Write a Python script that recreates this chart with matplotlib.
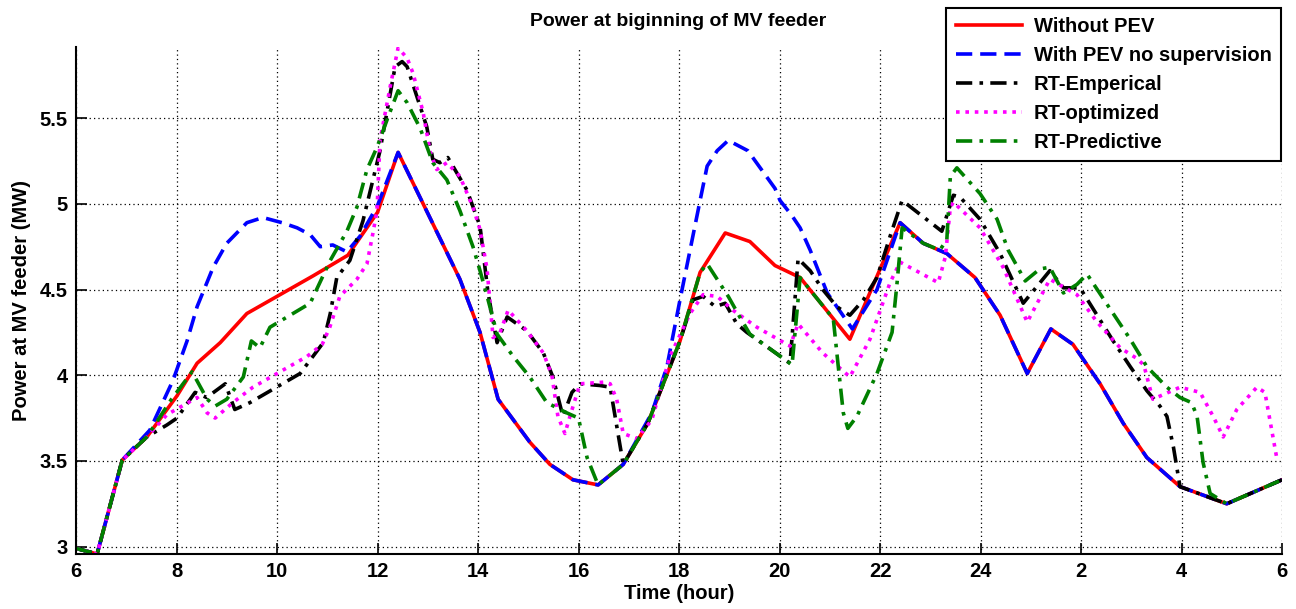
import matplotlib
matplotlib.use("Agg")
import matplotlib.pyplot as plt

# ---------------- data (hours, MW) ----------------
red_t = [6.0, 6.42, 6.92, 7.41, 8.01, 8.41, 8.87, 9.40, 10.0, 10.72, 11.41, 12.0, 12.41, 13.64, 14.04, 14.40,
         15.03, 15.43, 15.89, 16.39, 16.89, 17.38, 18.02, 18.42, 18.92, 19.41, 19.91, 20.41, 21.40, 22.40, 22.86,
         23.33, 23.89, 24.39, 24.93, 25.40, 25.84, 26.38, 26.84, 27.31, 27.97, 28.90, 30.0]
red_y = [2.99, 2.957, 3.505, 3.64, 3.88, 4.07, 4.19, 4.36, 4.46, 4.58, 4.70, 4.95, 5.30, 4.56, 4.25, 3.86,
         3.61, 3.48, 3.39, 3.36, 3.48, 3.72, 4.20, 4.60, 4.83, 4.78, 4.64, 4.57, 4.21, 4.89, 4.77,
         4.71, 4.57, 4.35, 4.01, 4.27, 4.18, 3.95, 3.72, 3.52, 3.35, 3.25, 3.39]

blue_t = [6.0, 6.42, 6.92, 7.47, 7.93, 8.21, 8.41, 8.73, 9.0, 9.40, 9.72, 10.1, 10.40, 10.66, 10.86, 11.11,
          11.39, 11.65, 12.0, 12.41, 13.64, 14.04, 14.40, 15.03, 15.43, 15.89, 16.39, 16.89, 17.46, 17.76,
          18.02, 18.22, 18.42, 18.56, 18.76, 18.98, 19.37, 19.91, 20.01, 20.25, 20.41, 20.61, 20.95, 21.45,
          21.94, 22.40, 22.86, 23.33, 23.89, 24.39, 24.93, 25.40, 25.84, 26.38, 26.84, 27.31, 27.97, 28.90, 30.0]
blue_y = [2.99, 2.957, 3.505, 3.68, 3.97, 4.20, 4.40, 4.63, 4.77, 4.89, 4.92, 4.89, 4.86, 4.82, 4.75, 4.76,
          4.72, 4.81, 4.99, 5.30, 4.56, 4.25, 3.86, 3.61, 3.48, 3.39, 3.36, 3.48, 3.78, 4.05,
          4.44, 4.73, 5.02, 5.22, 5.31, 5.37, 5.31, 5.09, 5.02, 4.93, 4.86, 4.73, 4.48, 4.27,
          4.50, 4.89, 4.77, 4.71, 4.57, 4.35, 4.01, 4.27, 4.18, 3.95, 3.72, 3.52, 3.35, 3.25, 3.39]

black_t = [6.0, 6.42, 6.92, 7.41, 7.81, 8.01, 8.37, 8.6, 8.97, 9.16, 9.46, 10.46, 10.92, 11.06, 11.19, 11.45,
           11.71, 12.05, 12.35, 12.49, 12.59, 12.98, 13.1, 13.24, 13.40, 13.78, 14.04, 14.20, 14.38, 14.58,
           14.97, 15.30, 15.49, 15.69, 15.87, 16.03, 16.43, 16.63, 16.89, 17.38, 18.02, 18.28, 18.48, 18.72,
           18.92, 19.15, 19.35, 20.21, 20.37, 20.61, 20.86, 21.14, 21.40, 21.67, 21.94, 22.2, 22.44, 23.23,
           23.46, 23.59, 23.99, 24.39, 24.85, 25.38, 25.65, 25.98, 26.64, 26.98, 27.31, 27.57, 27.71, 27.84,
           27.97, 28.90, 30.0]
black_y = [2.99, 2.957, 3.505, 3.64, 3.71, 3.75, 3.90, 3.87, 3.95, 3.80, 3.84, 4.01, 4.19, 4.36, 4.57, 4.67,
           4.90, 5.31, 5.80, 5.83, 5.80, 5.45, 5.26, 5.24, 5.27, 5.08, 4.87, 4.48, 4.19, 4.34,
           4.26, 4.13, 3.99, 3.76, 3.90, 3.95, 3.94, 3.93, 3.48, 3.72, 4.20, 4.44, 4.46, 4.40,
           4.42, 4.30, 4.25, 4.07, 4.68, 4.61, 4.50, 4.40, 4.35, 4.44, 4.57, 4.81, 5.02, 4.84,
           5.05, 5.04, 4.91, 4.71, 4.42, 4.61, 4.51, 4.51, 4.20, 4.05, 3.91, 3.82, 3.76, 3.58,
           3.35, 3.25, 3.39]

mag_t = [6.0, 6.42, 6.92, 7.41, 7.81, 8.41, 8.61, 8.77, 9.12, 9.52, 10.06, 10.6, 10.9, 11.05, 11.25, 11.59,
         11.79, 11.91, 11.99, 12.05, 12.25, 12.41, 12.59, 12.71, 12.91, 13.05, 13.18, 13.38, 13.64, 13.90,
         14.04, 14.18, 14.30, 14.44, 14.60, 14.97, 15.30, 15.47, 15.59, 15.73, 15.83, 16.03, 16.53, 16.63,
         16.76, 16.89, 17.16, 17.46, 17.82, 18.22, 18.48, 18.76, 19.07, 19.55, 20.21, 20.37, 20.86, 21.40,
         21.80, 22.2, 22.4, 23.16, 23.30, 23.4, 23.46, 23.99, 24.45, 24.93, 25.38, 25.92, 26.32, 26.78,
         27.1, 27.25, 27.43, 27.97, 28.37, 28.63, 28.83, 29.1, 29.5, 29.66, 29.9]
mag_y = [2.99, 2.957, 3.505, 3.64, 3.77, 3.87, 3.78, 3.75, 3.84, 3.93, 4.02, 4.11, 4.18, 4.28, 4.46, 4.56,
         4.65, 4.83, 4.96, 5.37, 5.68, 5.91, 5.85, 5.76, 5.53, 5.30, 5.20, 5.24, 5.16, 4.98,
         4.85, 4.62, 4.22, 4.25, 4.38, 4.26, 4.13, 4.00, 3.76, 3.66, 3.76, 3.95, 3.96, 3.95,
         3.86, 3.66, 3.63, 3.74, 4.11, 4.36, 4.47, 4.46, 4.38, 4.28, 4.17, 4.30, 4.13, 3.99,
         4.21, 4.54, 4.66, 4.54, 4.69, 4.98, 5.01, 4.86, 4.63, 4.31, 4.56, 4.47, 4.31, 4.16,
         4.10, 4.06, 3.86, 3.93, 3.90, 3.76, 3.64, 3.80, 3.93, 3.90, 3.51]

green_t = [6.0, 6.42, 6.92, 7.41, 7.9, 8.31, 8.61, 8.77, 9.0, 9.33, 9.49, 9.66, 9.86, 10.66, 11.06, 11.39,
           11.59, 11.79, 11.99, 12.19, 12.41, 12.59, 12.85, 13.1, 13.38, 13.64, 13.90, 14.04, 14.20, 14.38,
           14.70, 15.03, 15.37, 15.77, 16.0, 16.17, 16.39, 16.89, 17.38, 18.02, 18.42, 18.56, 18.98, 19.21,
           19.41, 20.25, 20.41, 21.07, 21.17, 21.27, 21.36, 21.54, 21.94, 22.24, 22.34, 22.44, 22.86, 23.19,
           23.33, 23.4, 23.53, 23.99, 24.33, 24.55, 24.89, 25.18, 25.38, 25.65, 25.92, 26.12, 26.64, 26.98,
           27.31, 27.71, 27.97, 28.2, 28.31, 28.43, 28.57, 28.90, 30.0]
green_y = [2.99, 2.957, 3.505, 3.64, 3.86, 4.02, 3.86, 3.82, 3.86, 3.99, 4.20, 4.16, 4.28, 4.42, 4.67, 4.84,
           4.98, 5.20, 5.33, 5.49, 5.66, 5.59, 5.44, 5.24, 5.14, 4.96, 4.75, 4.61, 4.44, 4.24,
           4.11, 3.99, 3.84, 3.78, 3.75, 3.52, 3.36, 3.48, 3.72, 4.20, 4.60, 4.65, 4.46, 4.34,
           4.24, 4.06, 4.57, 4.33, 4.05, 3.78, 3.69, 3.76, 4.01, 4.25, 4.54, 4.86, 4.77, 4.73,
           4.79, 5.16, 5.21, 5.06, 4.91, 4.73, 4.55, 4.62, 4.63, 4.48, 4.53, 4.59, 4.36, 4.21,
           4.05, 3.93, 3.87, 3.84, 3.76, 3.49, 3.31, 3.25, 3.39]

x_ticks = [6, 8, 10, 12, 14, 16, 18, 20, 22, 24, 26, 28, 30]
x_tick_labels = ["6", "8", "10", "12", "14", "16", "18", "20", "22", "24", "2", "4", "6"]
y_ticks = [3, 3.5, 4, 4.5, 5, 5.5]
y_tick_labels = ["3", "3.5", "4", "4.5", "5", "5.5"]
labels = ["Without PEV", "With PEV no supervision", "RT-Emperical", "RT-optimized", "RT-Predictive"]

# ---------------- figure ----------------
plt.rcParams['font.family'] = ['Liberation Sans', 'DejaVu Sans']
plt.rcParams['font.weight'] = 'bold'

fig = plt.figure(figsize=(12.96, 6.09), dpi=100)
ax = fig.add_axes([76 / 1296, 1 - 554 / 609, (1282 - 76) / 1296, (554 - 47) / 609])

lw = 2.6
ax.plot(red_t, red_y, color='#ff0000', lw=lw, ls='-', label=labels[0])
ax.plot(blue_t, blue_y, color='#0000ff', lw=lw, dashes=(4.5, 2.2), label=labels[1])
ax.plot(black_t, black_y, color='black', lw=lw, dashes=(4.5, 2.0, 1.0, 2.0), label=labels[2])
ax.plot(mag_t, mag_y, color='#ff00ff', lw=lw, dashes=(1.0, 1.6), label=labels[3])
ax.plot(green_t, green_y, color='#008000', lw=lw, dashes=(4.5, 2.0, 1.0, 2.0), label=labels[4])

ax.set_xlim(6, 30)
ax.set_ylim(2.957, 5.915)
ax.set_xticks(x_ticks)
ax.set_xticklabels(x_tick_labels)
ax.set_yticks(y_ticks)
ax.set_yticklabels(y_tick_labels)
ax.tick_params(direction='in', length=8, width=1.2, labelsize=14.5, pad=6)
for lab in ax.get_xticklabels() + ax.get_yticklabels():
    lab.set_fontweight('bold')

ax.grid(True, color='black', ls=(0, (1, 2.5)), lw=0.9)
ax.spines['top'].set_visible(False)
ax.spines['right'].set_visible(False)
ax.spines['left'].set_linewidth(1.5)
ax.spines['bottom'].set_linewidth(1.5)

ax.set_xlabel("Time (hour)", fontsize=14.5, fontweight='bold', labelpad=2)
ax.set_ylabel("Power at MV feeder (MW)", fontsize=14.5, fontweight='bold', labelpad=6)
fig.text(678 / 1296, 1 - 22 / 609, "Power at biginning of MV feeder", ha='center', va='center',
         fontsize=14, fontweight='bold')

leg = fig.legend(loc='upper right', bbox_to_anchor=(1281 / 1296, 1 - 8 / 609), fontsize=14.5,
                 handlelength=3.3, handletextpad=0.6, labelspacing=0.5, borderpad=0.45,
                 fancybox=False, framealpha=1, edgecolor='black', borderaxespad=0)
leg.get_frame().set_linewidth(1.5)
for t in leg.get_texts():
    t.set_fontweight('bold')

fig.savefig("out.png", dpi=100)
